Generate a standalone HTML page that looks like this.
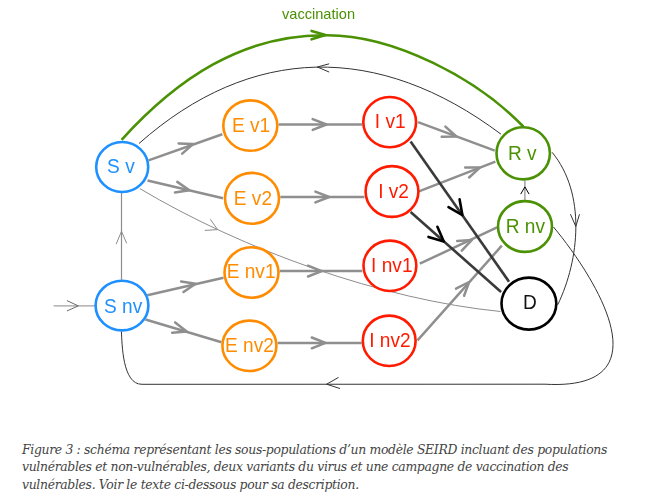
<!DOCTYPE html>
<html><head><meta charset="utf-8"><style>
html,body{margin:0;padding:0;background:#fff;width:661px;height:504px;overflow:hidden}
svg{position:absolute;left:0;top:0;will-change:transform}
svg text{font-family:"Liberation Sans",Arial,sans-serif}
.cap{position:absolute;left:22px;top:441px;width:640px;font-family:"DejaVu Serif","Liberation Serif",serif;font-style:italic;font-size:12.4px;letter-spacing:-0.32px;line-height:17.3px;color:#444;white-space:nowrap}
</style></head><body>
<svg width="661" height="420" viewBox="0 0 661 420">
<path d="M139.7,188.5 C242.8,250.1 382.3,299.8 500.5,311.5" fill="none" stroke="#8c8c8c" stroke-width="1"/>
<path d="M210.4,219.5 L217.7,229.6 L205.2,230.4" fill="none" stroke="#8c8c8c" stroke-width="1" stroke-linejoin="round" stroke-linecap="round"/>
<line x1="121.5" y1="279.7" x2="121.5" y2="193" stroke="#8c8c8c" stroke-width="1.2"/>
<path d="M116.3,243.8 L121.5,231.3 L126.5,243" fill="none" stroke="#8c8c8c" stroke-width="1" stroke-linejoin="round" stroke-linecap="round"/>
<line x1="53.6" y1="305.9" x2="95" y2="305.9" stroke="#a0a0a0" stroke-width="1.3"/>
<path d="M67.3,300.8 L78.3,305.9 L67.3,310.8" fill="none" stroke="#6a6a6a" stroke-width="1" stroke-linejoin="round" stroke-linecap="round"/>
<path d="M552.1,152.3 C586.1,193.5 579.6,259.5 557.7,304.8" fill="none" stroke="#333333" stroke-width="1"/>
<path d="M570.6,214.6 L575.8,226.4 L579.4,214.6" fill="none" stroke="#333333" stroke-width="1" stroke-linejoin="round" stroke-linecap="round"/>
<path d="M553.5,227.0 C593.2,274.8 669.0,391.2 545.0,384.2 L142.0,384.3 C122.3,384.6 122.1,343.6 121.4,331.4" fill="none" stroke="#333333" stroke-width="1"/>
<path d="M338.2,377.6 L326.6,384.2 L339.6,388.4" fill="none" stroke="#333333" stroke-width="1" stroke-linejoin="round" stroke-linecap="round"/>
<path d="M501.0,134.2 C378.3,42.1 250.9,44.4 139.0,143.5" fill="none" stroke="#333333" stroke-width="1"/>
<path d="M328.8,63.9 L317.3,67.0 L328.8,71.9" fill="none" stroke="#333333" stroke-width="1" stroke-linejoin="round" stroke-linecap="round"/>
<path d="M121.6,139.8 C176.4,79.3 242.4,34.1 326.8,35.2 C394.0,35.1 476.3,78.1 523.3,126.5" fill="none" stroke="#4a9104" stroke-width="2.6"/>
<path d="M311.6,30.9 L325.5,35.1 L311.6,39.3" fill="none" stroke="#4a9104" stroke-width="2.6" stroke-linejoin="round" stroke-linecap="round"/>
<line x1="524.9" y1="200" x2="524.9" y2="180.5" stroke="#8a8a8a" stroke-width="1.2"/>
<path d="M520.9,193.8 L524.9,186.9 L528.9,193.8" fill="none" stroke="#000" stroke-width="1" stroke-linejoin="round" stroke-linecap="round"/>
<line x1="148.5" y1="160.4" x2="222.3" y2="134.2" stroke="#8f8f8f" stroke-width="2.5"/>
<path d="M178.6,143.4 L193.3,143.9 L182.2,153.6" fill="none" stroke="#8f8f8f" stroke-width="2.5" stroke-linejoin="round" stroke-linecap="round"/>
<line x1="147.5" y1="180.5" x2="223" y2="198.2" stroke="#8f8f8f" stroke-width="2.5"/>
<path d="M177.3,181.9 L189.4,190.3 L174.9,192.4" fill="none" stroke="#8f8f8f" stroke-width="2.5" stroke-linejoin="round" stroke-linecap="round"/>
<line x1="147.3" y1="295.3" x2="223.5" y2="277.8" stroke="#8f8f8f" stroke-width="2.5"/>
<path d="M181.1,281.5 L195.6,283.7 L183.5,292.0" fill="none" stroke="#8f8f8f" stroke-width="2.5" stroke-linejoin="round" stroke-linecap="round"/>
<line x1="145.5" y1="319.5" x2="221.5" y2="342.3" stroke="#8f8f8f" stroke-width="2.5"/>
<path d="M175.2,322.4 L186.7,331.5 L172.1,332.7" fill="none" stroke="#8f8f8f" stroke-width="2.5" stroke-linejoin="round" stroke-linecap="round"/>
<line x1="278.6" y1="124.5" x2="362.2" y2="124.5" stroke="#8f8f8f" stroke-width="2.5"/>
<path d="M312.7,119.1 L326.4,124.5 L312.7,129.9" fill="none" stroke="#8f8f8f" stroke-width="2.5" stroke-linejoin="round" stroke-linecap="round"/>
<line x1="280.3" y1="197" x2="364.4" y2="197" stroke="#8f8f8f" stroke-width="2.5"/>
<path d="M315.4,191.6 L329.1,197.0 L315.4,202.4" fill="none" stroke="#8f8f8f" stroke-width="2.5" stroke-linejoin="round" stroke-linecap="round"/>
<line x1="279.6" y1="271.1" x2="362.2" y2="271.1" stroke="#8f8f8f" stroke-width="2.5"/>
<path d="M308.0,265.7 L321.7,271.1 L308.0,276.5" fill="none" stroke="#8f8f8f" stroke-width="2.5" stroke-linejoin="round" stroke-linecap="round"/>
<line x1="277.5" y1="342.9" x2="361.7" y2="342.9" stroke="#8f8f8f" stroke-width="2.5"/>
<path d="M311.8,337.5 L325.5,342.9 L311.8,348.3" fill="none" stroke="#8f8f8f" stroke-width="2.5" stroke-linejoin="round" stroke-linecap="round"/>
<line x1="418" y1="122.1" x2="494.8" y2="150.7" stroke="#8f8f8f" stroke-width="2.5"/>
<path d="M445.4,126.6 L456.4,136.5 L441.7,136.7" fill="none" stroke="#8f8f8f" stroke-width="2.5" stroke-linejoin="round" stroke-linecap="round"/>
<line x1="418.9" y1="191.3" x2="495.4" y2="161.6" stroke="#8f8f8f" stroke-width="2.5"/>
<path d="M465.2,167.5 L479.9,167.6 L469.1,177.5" fill="none" stroke="#8f8f8f" stroke-width="2.5" stroke-linejoin="round" stroke-linecap="round"/>
<line x1="419.8" y1="263.7" x2="497" y2="227.4" stroke="#8f8f8f" stroke-width="2.5"/>
<path d="M457.2,240.9 L471.9,239.9 L461.8,250.6" fill="none" stroke="#8f8f8f" stroke-width="2.5" stroke-linejoin="round" stroke-linecap="round"/>
<line x1="417.5" y1="340.4" x2="501.8" y2="245.7" stroke="#8f8f8f" stroke-width="2.5"/>
<path d="M456.0,288.7 L469.1,282.0 L464.1,295.8" fill="none" stroke="#8f8f8f" stroke-width="2.5" stroke-linejoin="round" stroke-linecap="round"/>
<line x1="410.6" y1="141.4" x2="509" y2="281.7" stroke="#3a3a3a" stroke-width="2.6"/>
<path d="M459.6,199.4 L462.4,215.1 L448.5,207.1" fill="none" stroke="#000" stroke-width="2.6" stroke-linejoin="round" stroke-linecap="round"/>
<line x1="410.6" y1="212" x2="501.1" y2="292" stroke="#3a3a3a" stroke-width="2.6"/>
<path d="M437.4,226.8 L443.8,241.5 L428.5,236.9" fill="none" stroke="#000" stroke-width="2.6" stroke-linejoin="round" stroke-linecap="round"/>
<ellipse cx="122.2" cy="167.0" rx="26.0" ry="25.0" fill="none" stroke="#1e90ff" stroke-width="2.6"/>
<text transform="translate(120.90,172.96) scale(0.955,1)" fill="#1e90ff" text-anchor="middle" font-size="20">S v</text>
<ellipse cx="122.0" cy="305.6" rx="26.4" ry="24.8" fill="none" stroke="#1e90ff" stroke-width="2.6"/>
<text transform="translate(123.10,313.11) scale(0.955,1)" fill="#1e90ff" text-anchor="middle" font-size="20">S nv</text>
<ellipse cx="250.3" cy="125.6" rx="27.0" ry="25.2" fill="none" stroke="#ff8c00" stroke-width="2.6"/>
<text transform="translate(251.10,131.77) scale(0.955,1)" fill="#ff8c00" text-anchor="middle" font-size="20">E v1</text>
<ellipse cx="252.0" cy="198.3" rx="27.0" ry="25.4" fill="none" stroke="#ff8c00" stroke-width="2.6"/>
<text transform="translate(252.90,204.60) scale(0.955,1)" fill="#ff8c00" text-anchor="middle" font-size="20">E v2</text>
<ellipse cx="251.5" cy="272.5" rx="27.0" ry="25.2" fill="none" stroke="#ff8c00" stroke-width="2.6"/>
<text transform="translate(251.10,277.79) scale(0.955,1)" fill="#ff8c00" text-anchor="middle" font-size="20">E nv1</text>
<ellipse cx="249.4" cy="345.8" rx="27.0" ry="25.2" fill="none" stroke="#ff8c00" stroke-width="2.6"/>
<text transform="translate(249.40,351.62) scale(0.955,1)" fill="#ff8c00" text-anchor="middle" font-size="20">E nv2</text>
<ellipse cx="389.7" cy="122.1" rx="26.4" ry="25.1" fill="none" stroke="#ff1a00" stroke-width="2.6"/>
<text transform="translate(390.20,128.43) scale(0.955,1)" fill="#ff1a00" text-anchor="middle" font-size="20">I v1</text>
<ellipse cx="392.0" cy="191.5" rx="26.4" ry="25.4" fill="none" stroke="#ff1a00" stroke-width="2.6"/>
<text transform="translate(393.60,197.62) scale(0.955,1)" fill="#ff1a00" text-anchor="middle" font-size="20">I v2</text>
<ellipse cx="389.9" cy="265.8" rx="26.4" ry="25.2" fill="none" stroke="#ff1a00" stroke-width="2.6"/>
<text transform="translate(391.80,271.96) scale(0.955,1)" fill="#ff1a00" text-anchor="middle" font-size="20">I nv1</text>
<ellipse cx="389.2" cy="340.8" rx="26.4" ry="25.2" fill="none" stroke="#ff1a00" stroke-width="2.6"/>
<text transform="translate(389.90,346.96) scale(0.955,1)" fill="#ff1a00" text-anchor="middle" font-size="20">I nv2</text>
<ellipse cx="523.2" cy="153.3" rx="26.7" ry="26.1" fill="none" stroke="#4a9104" stroke-width="2.6"/>
<text transform="translate(522.20,159.96) scale(0.955,1)" fill="#4a9104" text-anchor="middle" font-size="20">R v</text>
<ellipse cx="525.0" cy="226.5" rx="27.0" ry="25.4" fill="none" stroke="#4a9104" stroke-width="2.6"/>
<text transform="translate(525.40,232.77) scale(0.955,1)" fill="#4a9104" text-anchor="middle" font-size="20">R nv</text>
<ellipse cx="528.9" cy="303.6" rx="27.4" ry="26.0" fill="none" stroke="#000" stroke-width="2.6"/>
<text transform="translate(529.80,309.11) scale(0.955,1)" fill="#111" text-anchor="middle" font-size="20">D</text>
<text x="318.5" y="18.7" fill="#4a9104" text-anchor="middle" font-size="14.6">vaccination</text>
</svg>
<div class="cap">Figure 3 : schéma représentant les sous-populations d’un modèle SEIRD incluant des populations<br>vulnérables et non-vulnérables, deux variants du virus et une campagne de vaccination des<br>vulnérables. Voir le texte ci-dessous pour sa description.</div>
</body></html>
